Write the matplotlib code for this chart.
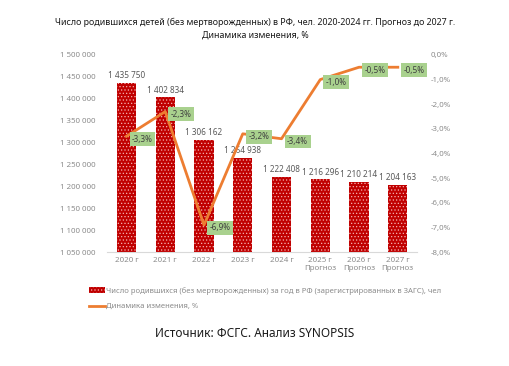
import matplotlib.pyplot as plt
import numpy as np
from matplotlib.patches import Patch
from matplotlib.lines import Line2D

plt.rcParams['font.family'] = ['Noto Sans', 'DejaVu Sans']

years = ['2020 г', '2021 г', '2022 г', '2023 г', '2024 г',
         '2025 г\nПрогноз', '2026 г\nПрогноз', '2027 г\nПрогноз']
births = [1435750, 1402834, 1306162, 1264938, 1222408, 1216296, 1210214, 1204163]
change = [-3.3, -2.3, -6.9, -3.2, -3.4, -1.0, -0.5, -0.5]

def fmt_num(v):
    return f'{v:,}'.replace(',', ' ')

fig = plt.figure(figsize=(5.1, 3.66), dpi=100)
ax = fig.add_axes([0.21, 0.311, 0.608, 0.539])
x = np.arange(len(years))

plt.rcParams['hatch.linewidth'] = 0.5
bars = ax.bar(x, births, width=0.5, color='#c00000', edgecolor='#f4b0b0',
              hatch='.....', linewidth=0, zorder=2)
for xi, v in zip(x, births):
    ax.text(xi, v + 6000, fmt_num(v), ha='center', va='bottom',
            fontsize=5.9, color='#595959')

ax.set_ylim(1050000, 1500000)
ax.set_xlim(-0.5, len(years) - 0.5)
ax.set_yticks(np.arange(1050000, 1500001, 50000))
ax.set_yticklabels([fmt_num(v) for v in range(1050000, 1500001, 50000)])
ax.set_xticks(x)
ax.set_xticklabels(years)
ax.tick_params(axis='both', length=0, labelsize=5.7, labelcolor='#8c8c8c')
ax.tick_params(axis='y', pad=8)
for s in ['top', 'right', 'left']:
    ax.spines[s].set_visible(False)
ax.spines['bottom'].set_color('#d9d9d9')

ax2 = ax.twinx()
ax2.plot(x, change, color='#ed7d31', lw=2, zorder=3)
ax2.set_ylim(-8, 0)
ax2.set_yticks(np.arange(-8, 0.1, 1))
ax2.set_yticklabels([f'{v:.1f}%'.replace('.', ',') for v in np.arange(-8, 0.1, 1)])
ax2.tick_params(axis='y', length=0, labelsize=5.7, labelcolor='#8c8c8c', pad=10)
for s in ax2.spines.values():
    s.set_visible(False)
for xi, v in zip(x, change):
    ax2.annotate(f'{v:.1f}%'.replace('.', ','), (xi, v), xytext=(4, -2),
                 textcoords='offset points', ha='left', va='center',
                 fontsize=5.9, color='#404040',
                 bbox=dict(boxstyle='square,pad=0.3', fc='#a9d18e', ec='none'))

fig.text(0.5, 0.938, 'Число родившихся детей (без мертворожденных) в РФ, чел. 2020-2024 гг. Прогноз до 2027 г.',
         ha='center', va='center', fontsize=6.4, fontweight='bold', color='#1a1a1a')
fig.text(0.5, 0.905, 'Динамика изменения, %', ha='center', va='center',
         fontsize=6.4, fontweight='bold', color='#1a1a1a')

handles = [Patch(facecolor='#c00000', edgecolor='#f4b0b0', hatch='.....', linewidth=0),
           Line2D([0], [0], color='#ed7d31', lw=2)]
labels = ['Число родившихся (без мертворожденных) за год в РФ (зарегистрированных в ЗАГС), чел',
          'Динамика изменения, %']
fig.legend(handles, labels, loc='upper left', bbox_to_anchor=(0.168, 0.225),
           frameon=False, fontsize=5.5, labelcolor='#8c8c8c', handlelength=2.1,
           handletextpad=0.1, labelspacing=1.1, borderaxespad=0)

fig.text(0.5, 0.09, 'Источник: ФСГС. Анализ SYNOPSIS', ha='center', va='center',
         fontsize=8.5, color='#1a1a1a')

fig.savefig('out.png', dpi=100, facecolor='white')
